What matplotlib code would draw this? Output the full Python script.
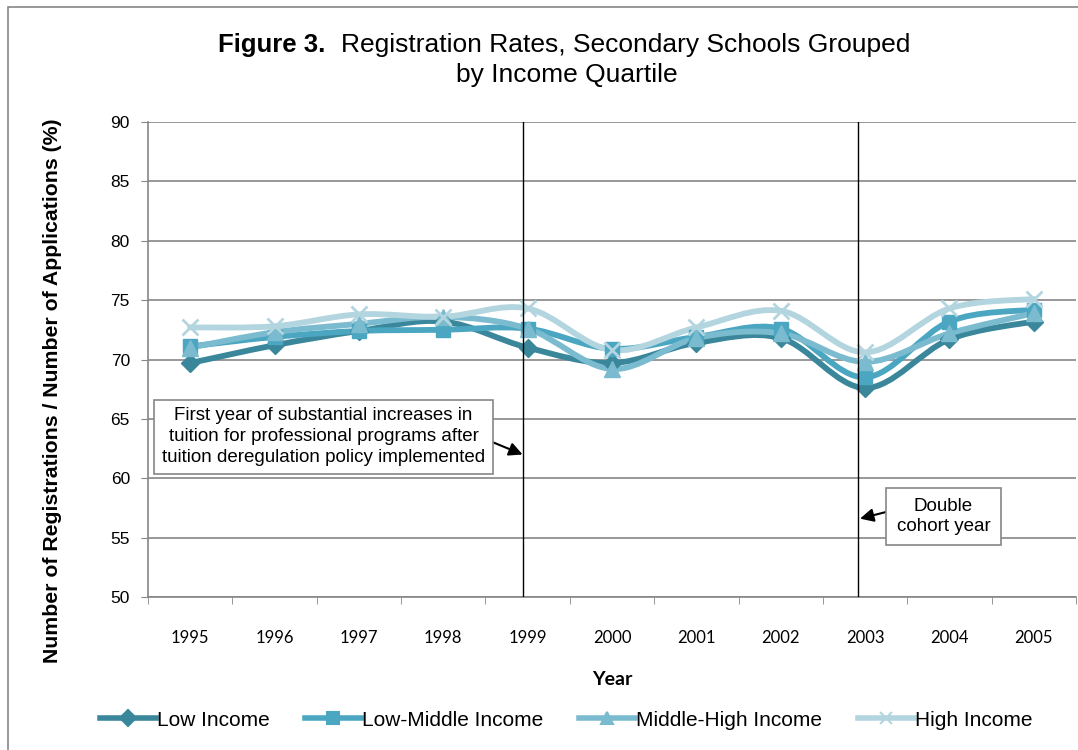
import numpy as np
import matplotlib.pyplot as plt
from matplotlib.path import Path
from matplotlib.patches import PathPatch, Rectangle
from matplotlib.lines import Line2D

# data
years = ["1995", "1996", "1997", "1998", "1999", "2000", "2001", "2002", "2003", "2004", "2005"]
low_income = [69.7, 71.2, 72.4, 73.2, 71.0, 69.7, 71.4, 71.8, 67.6, 71.7, 73.2]
low_middle = [71.1, 71.9, 72.4, 72.5, 72.6, 70.9, 71.9, 72.6, 68.5, 73.2, 74.2]
middle_high = [71.0, 72.3, 73.0, 73.6, 72.6, 69.2, 71.8, 72.2, 69.8, 72.2, 73.9]
high_income = [72.7, 72.8, 73.8, 73.6, 74.3, 70.8, 72.7, 74.1, 70.6, 74.3, 75.1]

series_names = ["Low Income", "Low-Middle Income", "Middle-High Income", "High Income"]
series_vals = [low_income, low_middle, middle_high, high_income]
colors = ["#3A879B", "#4BA7C1", "#7BBBCF", "#B3D5E0"]
markers = ["D", "s", "^", "x"]
msizes = [9, 10, 11, 12]

plt.rcParams['font.family'] = ['Liberation Sans', 'DejaVu Sans']

fig = plt.figure(figsize=(10.78, 7.5), dpi=100)
W, H = 1078, 750
ax = fig.add_axes([148 / W, 1 - 597 / H, (1076 - 148) / W, (597 - 122) / H])


def smooth_path(xs, ys):
    # excel-like smoothed line: bezier segments through every point
    pts = np.column_stack([xs, ys])
    n = len(pts)
    verts = [pts[0]]
    codes = [Path.MOVETO]
    for i in range(n - 1):
        p0 = pts[i - 1] if i > 0 else pts[i]
        p1 = pts[i]
        p2 = pts[i + 1]
        p3 = pts[i + 2] if i + 2 < n else pts[i + 1]
        c1 = p1 + (p2 - p0) / 6.0
        c2 = p2 - (p3 - p1) / 6.0
        verts += [c1, c2, p2]
        codes += [Path.CURVE4] * 3
    return Path(verts, codes)


x = np.arange(len(years))
handles = []
for name, vals, c, m, ms in zip(series_names, series_vals, colors, markers, msizes):
    patch = PathPatch(smooth_path(x, vals), facecolor='none', edgecolor=c, lw=4.2, zorder=3,
                      capstyle='round', joinstyle='round')
    ax.add_patch(patch)
    ax.plot(x, vals, ls='none', marker=m, ms=ms, mew=2 if m == "x" else 1, color=c, zorder=4)
    handles.append(Line2D([0], [0], color=c, lw=4, marker=m, ms=8, mew=1.5))

ax.set_xlim(-0.5, len(years) - 0.5)
ax.set_ylim(50, 90)
ax.set_yticks(range(50, 91, 5))
ax.set_xticks(x)
ax.set_xticklabels(years, fontsize=12, family=['Lato', 'DejaVu Sans'])
ax.tick_params(axis='y', labelsize=12.5, length=5, color='#868686', pad=8)
ax.tick_params(axis='x', length=0, pad=24)
# category boundary ticks
ax.set_xticks(np.arange(-0.5, len(years)), minor=True)
ax.tick_params(axis='x', which='minor', length=5, color='#868686')
ax.grid(axis='y', color='#868686', lw=1.2)
ax.set_axisbelow(True)
for s in ['top', 'right']:
    ax.spines[s].set_visible(False)
for s in ['left', 'bottom']:
    ax.spines[s].set_color('#868686')
    ax.spines[s].set_linewidth(1.2)

ax.set_xlabel("Year", fontsize=14, fontweight='bold', family=['Lato', 'DejaVu Sans'], labelpad=18)
ax.set_ylabel("Number of Registrations / Number of Applications (%)", fontsize=15.3,
              fontweight='bold')
ax.yaxis.set_label_coords(-0.093, 0.434)

# event lines
ax.axvline(3.94, color='black', lw=1, zorder=5)
ax.axvline(7.92, color='black', lw=1, zorder=5)

ax.annotate("First year of substantial increases in\ntuition for professional programs after\ntuition deregulation policy implemented",
            xy=(3.94, 62.0), xytext=(1.58, 63.5), ha='center', va='center', fontsize=13.5,
            linespacing=1.3,
            bbox=dict(boxstyle='square,pad=0.4', fc='white', ec='#868686', lw=1.2),
            arrowprops=dict(arrowstyle='-|>', color='black', lw=1.5, mutation_scale=20,
                            shrinkA=0, shrinkB=0, relpos=(1, 0.46)),
            zorder=6)
ax.annotate("Double\ncohort year", xy=(7.94, 56.6), xytext=(8.93, 56.8), ha='center', va='center',
            fontsize=13.5, linespacing=1.2,
            bbox=dict(boxstyle='square,pad=0.55', fc='white', ec='#868686', lw=1.2),
            arrowprops=dict(arrowstyle='-|>', color='black', lw=1.5, mutation_scale=20,
                            shrinkA=0, shrinkB=0, relpos=(0, 0.69)),
            zorder=6)

# title
fig.text(325 / W, 1 - 45 / H, "Figure 3.", ha='right', va='center', fontsize=18.5, fontweight='bold')
fig.text(341 / W, 1 - 45 / H, "Registration Rates, Secondary Schools Grouped", ha='left', va='center', fontsize=19)
fig.text(567 / W, 1 - 75 / H, "by Income Quartile", ha='center', va='center', fontsize=19)

fig.legend(handles, series_names, loc='center', bbox_to_anchor=(566 / W, 1 - 720 / H), ncol=4,
           frameon=False, fontsize=15, handlelength=2.7, handletextpad=0.05, columnspacing=1.7)

# outer chart border
fig.add_artist(Rectangle((8 / W, -0.05), 1.1, 1.05 - 7 / H, transform=fig.transFigure,
                         fill=False, ec='#868686', lw=1.2))

fig.savefig("out.png", dpi=100)
